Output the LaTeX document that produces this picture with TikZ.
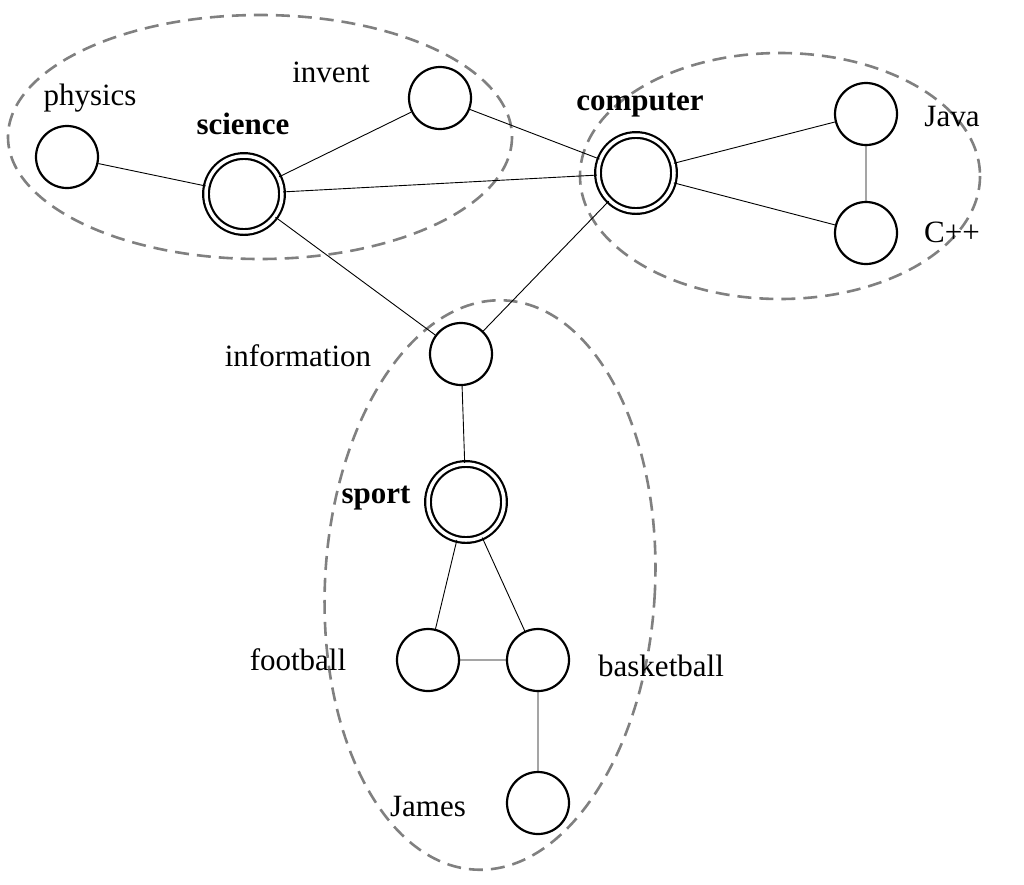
\documentclass[tikz,border=0pt]{standalone}
\usepackage{fontspec}
\setmainfont{Liberation Serif}
\begin{document}
\begin{tikzpicture}[x=1pt,y=-1pt,
  v/.style={circle,draw,line width=2.2pt,minimum size=62pt,inner sep=0pt},
  dv/.style={circle,draw,line width=2.2pt,minimum size=76pt,inner sep=0pt,double,double distance=3.5pt},
  e/.style={line width=0.9pt},
  grp/.style={draw=gray,dashed,line width=2.6pt,dash pattern=on 14pt off 8pt},
  lb/.style={font=\fontsize{31}{36}\selectfont},
  bl/.style={font=\fontsize{31}{36}\selectfont\bfseries}]
\useasboundingbox (0,0) rectangle (1024,884);
\draw[grp] (260,137) ellipse [x radius=252, y radius=122];
\draw[grp] (780,176) ellipse [x radius=200, y radius=123];
\draw[grp,rotate around={-3:(490,585)}] (490,585) ellipse [x radius=165, y radius=285];
\node[v] (physics) at (67,157) {};
\node[dv] (science) at (244,194) {};
\node[v] (invent) at (440,98) {};
\node[dv] (computer) at (636,173) {};
\node[v] (java) at (866,114) {};
\node[v] (cpp) at (866,233) {};
\node[v] (info) at (461,354) {};
\node[dv] (sport) at (466,502) {};
\node[v] (foot) at (428,660) {};
\node[v] (basket) at (538,660) {};
\node[v] (james) at (538,803) {};
\draw[e] (physics)--(science) (science)--(invent) (science)--(computer) (invent)--(computer)
 (science)--(info) (computer)--(info) (computer)--(java) (computer)--(cpp) (java)--(cpp)
 (info)--(sport) (sport)--(foot) (sport)--(basket) (foot)--(basket) (basket)--(james);
\node[lb] (lphys) at (90,98) {physics};
\node[bl] (lsci) at (243,124) {science};
\node[lb] (linv) at (331,72) {invent};
\node[bl] (lcomp) at (640,105) {computer};
\node[lb] (ljava) at (952,116) {Java};
\node[lb] (lcpp) at (952,232) {C++};
\node[lb] (linfo) at (298,356) {information};
\node[bl] (lsport) at (376,498) {sport};
\node[lb] (lfoot) at (298,660) {football};
\node[lb] (lbask) at (661,666) {basketball};
\node[lb] (ljames) at (428,806) {James};
\end{tikzpicture}
\end{document}
